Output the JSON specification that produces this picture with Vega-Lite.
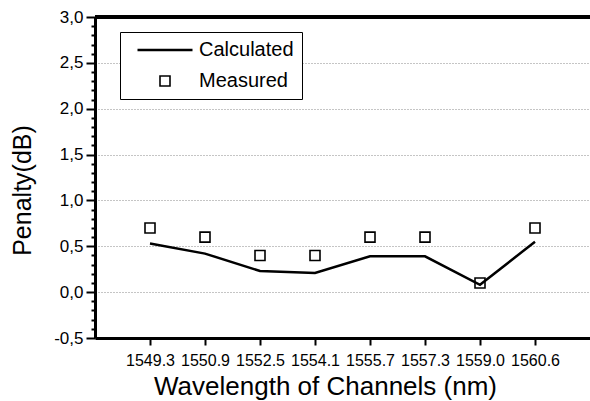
{
  "$schema": "https://vega.github.io/schema/vega-lite/v6.json",
  "width": 495,
  "height": 321,
  "autosize": {"type": "none"},
  "padding": {"left": 95, "top": 17, "right": 0, "bottom": 63},
  "config": {
    "view": {"stroke": null},
    "font": "Liberation Sans",
    "axis": {"labelFont": "Liberation Sans", "titleFont": "Liberation Sans", "labelColor": "black", "titleColor": "black", "titleFontWeight": "normal"},
    "legend": {"labelFont": "Liberation Sans"}
  },
  "data": {
    "values": [
      {"wl": "1549.3", "series": "Calculated", "penalty": 0.53},
      {"wl": "1550.9", "series": "Calculated", "penalty": 0.42},
      {"wl": "1552.5", "series": "Calculated", "penalty": 0.23},
      {"wl": "1554.1", "series": "Calculated", "penalty": 0.21},
      {"wl": "1555.7", "series": "Calculated", "penalty": 0.39},
      {"wl": "1557.3", "series": "Calculated", "penalty": 0.39},
      {"wl": "1559.0", "series": "Calculated", "penalty": 0.08},
      {"wl": "1560.6", "series": "Calculated", "penalty": 0.55},
      {"wl": "1549.3", "series": "Measured", "penalty": 0.70},
      {"wl": "1550.9", "series": "Measured", "penalty": 0.60},
      {"wl": "1552.5", "series": "Measured", "penalty": 0.40},
      {"wl": "1554.1", "series": "Measured", "penalty": 0.40},
      {"wl": "1555.7", "series": "Measured", "penalty": 0.60},
      {"wl": "1557.3", "series": "Measured", "penalty": 0.60},
      {"wl": "1559.0", "series": "Measured", "penalty": 0.10},
      {"wl": "1560.6", "series": "Measured", "penalty": 0.70}
    ]
  },
  "encoding": {
    "x": {
      "field": "wl", "type": "ordinal",
      "scale": {"type": "point", "padding": 1},
      "axis": {
        "title": "Wavelength of Channels (nm)",
        "titleFontSize": 26,
        "titleX": 230, "titleY": 56, "titleBaseline": "alphabetic", "titleAlign": "center",
        "labelFontSize": 16, "labelAngle": 0, "labelPadding": 7,
        "tickSize": 7, "tickWidth": 2, "tickColor": "black",
        "domainWidth": 3, "domainColor": "black",
        "grid": false
      }
    },
    "y": {
      "field": "penalty", "type": "quantitative",
      "scale": {"domain": [-0.5, 3.0], "nice": false, "zero": false},
      "axis": {
        "title": "Penalty(dB)",
        "titleFontSize": 25, "titleAngle": -90,
        "titleX": -65, "titleY": 173, "titleBaseline": "alphabetic", "titleAlign": "center",
        "values": [-0.5,-0.4,-0.3,-0.2,-0.1,0,0.1,0.2,0.3,0.4,0.5,0.6,0.7,0.8,0.9,1.0,1.1,1.2,1.3,1.4,1.5,1.6,1.7,1.8,1.9,2.0,2.1,2.2,2.3,2.4,2.5,2.6,2.7,2.8,2.9,3.0],
        "labelExpr": "abs(datum.value*2 - round(datum.value*2)) < 0.001 ? replace(replace(format(datum.value, '.1f'), '.', ','), '\u2212', '-') : ''",
        "labelFontSize": 17, "labelPadding": 3,
        "tickSize": {"condition": {"test": "abs(datum.value*2 - round(datum.value*2)) < 0.001", "value": 9}, "value": 4},
        "tickWidth": 2, "tickColor": "black",
        "domainWidth": 3, "domainColor": "black",
        "grid": true,
        "gridColor": "#8a8a8a", "gridDash": [1, 2], "gridWidth": 1,
        "gridOpacity": {"condition": {"test": "abs(datum.value*2 - round(datum.value*2)) < 0.001", "value": 1}, "value": 0}
      }
    }
  },
  "layer": [
    {
      "mark": {"type": "rule", "color": "black", "strokeWidth": 3},
      "encoding": {"y": {"datum": 3.0}, "x": null}
    },
    {
      "transform": [{"filter": "datum.series === 'Calculated'"}],
      "mark": {"type": "line", "color": "black", "strokeWidth": 2.5}
    },
    {
      "transform": [{"filter": "datum.series === 'Measured'"}],
      "mark": {"type": "point", "filled": false, "color": "black", "opacity": 1},
      "encoding": {
        "size": {
          "field": "series", "type": "nominal",
          "scale": {"domain": ["Calculated", "Measured"], "range": [3025, 100]}
        },
        "strokeWidth": {
          "field": "series", "type": "nominal",
          "scale": {"domain": ["Calculated", "Measured"], "range": [2.5, 1.6]}
        },
        "shape": {
          "field": "series", "type": "nominal",
          "scale": {"domain": ["Calculated", "Measured"], "range": ["stroke", "square"]},
          "legend": {
            "title": null,
            "orient": "none", "legendX": 25, "legendY": 15,
            "strokeColor": "black", "fillColor": "white",
            "padding": 8,
            "clipHeight": 20,
            "labelFontSize": 20, "labelColor": "black",
            "symbolOffset": 8, "labelOffset": 5,
            "rowPadding": 11,
            "symbolStrokeColor": "black", "symbolFillColor": "transparent",
            "labelExpr": "datum.label + '\u00a0\u00a0\u00a0'"
          }
        }
      }
    }
  ]
}
